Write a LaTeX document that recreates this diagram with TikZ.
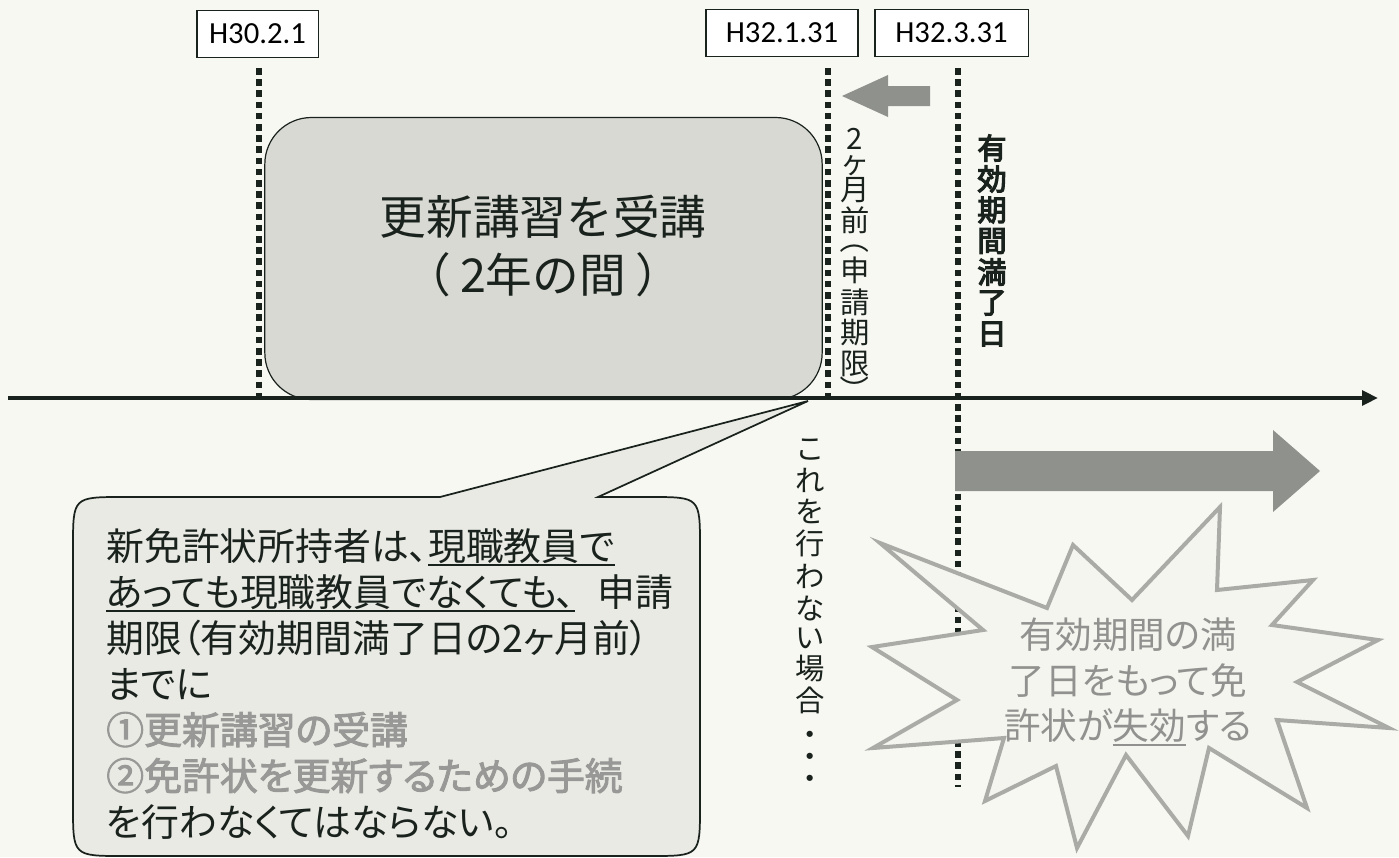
\documentclass[tikz,border=0pt]{standalone}
\usepackage{fontspec}
\setmainfont{Noto Sans CJK JP}
\newfontfamily\cjkb{Noto Sans CJK JP}[FakeBold=4]
\newfontfamily\cjkp{Noto Sans CJK JP}[RawFeature=+palt]
\newfontfamily\cjkpb{Noto Sans CJK JP}[RawFeature=+palt,FakeBold=2.5]
\newfontfamily\latf{Carlito}
\usetikzlibrary{arrows.meta}
\definecolor{bg}{RGB}{248,248,243}
\definecolor{ink}{RGB}{26,34,29}
\definecolor{arrowgray}{RGB}{143,145,140}
\definecolor{boxgray}{RGB}{217,217,212}
\definecolor{callgray}{RGB}{234,234,229}
\definecolor{starline}{RGB}{170,170,167}
\definecolor{starfill}{RGB}{245,245,240}
\definecolor{startext}{RGB}{145,145,143}
\definecolor{listgray}{RGB}{152,152,150}
\newcommand\myul[1]{\setbox0=\hbox{#1}\rlap{\rule[-0.17em]{\wd0}{0.055em}}\box0}
\begin{document}
\begin{tikzpicture}[x=0.75pt,y=-0.75pt,
  datebox/.style={draw=ink, line width=1pt, fill=white, minimum height=35pt, inner sep=0pt, font=\latf\fontsize{23}{24}\selectfont},
  dotline/.style={draw=ink, line width=4.4pt, dash pattern=on 5pt off 3.4pt},
  timeline/.style={draw=ink, line width=3.4pt, -{Triangle[length=12pt,width=11pt]}},
  grayarrow/.style={fill=arrowgray, draw=none},
  vtext/.style={inner sep=0pt, text=ink, font=\fontsize{22}{22}\selectfont},
  vbold/.style={inner sep=0pt, text=ink, font=\cjkb\fontsize{22}{22}\selectfont},
  ctext/.style={inner sep=0pt, anchor=base west, text=ink, font=\cjkp\fontsize{28.4}{30}\selectfont},
  clist/.style={ctext, text=listgray, font=\cjkpb\fontsize{28.4}{30}\selectfont},
  stext/.style={inner sep=0pt, text=startext, font=\cjkp\fontsize{27.4}{30}\selectfont}]
\useasboundingbox (0,0) rectangle (1399,857);
\fill[bg] (0,0) rectangle (1399,857);

% course box
\node[draw=ink, line width=0.9pt, fill=boxgray, rounded corners=35pt,
      minimum width=418pt, minimum height=211.5pt, inner sep=0pt] (course) at (543.5,258.5) {};
\node[align=center, text=ink, font=\fontsize{35}{43}\selectfont] (coursetext) at (543,246)
  {更新講習を受講\\（\hspace{0.2em}2年の間\hspace{0.2em}）};

% dotted vertical lines
\coordinate (l1t) at (259,68);  \coordinate (l1b) at (259,397);
\coordinate (l2t) at (828,68);  \coordinate (l2b) at (828,397);
\coordinate (l3t) at (958,68);  \coordinate (l3b) at (958,787);
\draw[dotline] (l1t) -- (l1b);
\draw[dotline] (l2t) -- (l2b);
\draw[dotline] (l3t) -- (l3b);

% timeline
\coordinate (t0) at (8,398); \coordinate (t1) at (1378,398);
\draw[timeline] (t0) -- (t1);

% callout
\coordinate (tip) at (808,401);
\draw[draw=ink, line width=1.3pt, fill=callgray, line join=miter]
  (440,497) -- (tip) -- (598,497) -- (650,497) .. controls (700,497) .. (700,547)
  -- (700,806) .. controls (700,856) .. (650,856) -- (123,856)
  .. controls (73,856) .. (73,806) -- (73,547) .. controls (73,497) .. (123,497) -- cycle;
\node[ctext] (c1) at (106,560) {新免許状所持者は、\myul{現職教員で}};
\node[ctext] (c2) at (106,606) {\myul{あっても現職教員でなくても、}\hspace{0.6em}申請};
\node[ctext] (c3) at (106,652) {期限（有効期間満了日の2ヶ月前）};
\node[ctext] (c4) at (106,698) {までに};
\node[clist] (c5) at (106,744) {①更新講習の受講};
\node[clist] (c6) at (106,790) {②免許状を更新するための手続};
\node[ctext] (c7) at (106,836) {を行わなくてはならない。};

% small left arrow
\fill[grayarrow] (842,96) -- (888,75) -- (888,86) -- (930,86) -- (930,106) -- (888,106) -- (888,117) -- cycle;
% big right arrow
\fill[grayarrow] (955,451) -- (1273,451) -- (1273,430) -- (1320,471) -- (1273,512) -- (1273,491) -- (955,491) -- cycle;

% vertical texts
\foreach \c/\y [count=\i] in {2/139,ヶ/166,月/190,前/220,申/270,請/302,期/333,限/364}
  \node[vtext] (va\i) at (855,\y) {\c};
\node[vtext] (vaopen) at (855,239) {\rotatebox{-90}{（}};
\node[vtext] (vaclose) at (855,390) {\rotatebox{-90}{）}};
\foreach \c/\y [count=\i] in {有/148,効/179,期/210,間/241,満/272,了/303,日/334}
  \node[vbold] (vb\i) at (992,\y) {\c};
\foreach \c/\y [count=\i] in {こ/450,れ/480,を/511,行/543,わ/576,な/608,い/638,場/669,合/700}
  \node[vtext] (vc\i) at (810,\y) {\c};
\node[vtext, align=center, font=\fontsize{22}{16.5}\selectfont] (vdots) at (810,760) {・\\・\\・};

% starburst
\draw[draw=starline, line width=3pt, fill=starfill, line join=miter]
  (880,543) -- (1047,608) -- (1073,545) -- (1132,600) -- (1220,507) -- (1217,590)
  -- (1313,580) -- (1272,625) -- (1378,640) -- (1297,682) -- (1389,728) -- (1277,720)
  -- (1307,808) -- (1209,748) -- (1188,836) -- (1126,755) -- (1077,848) -- (1056,766)
  -- (985,801) -- (1004,738) -- (873,748) -- (957,700) -- (872,647) -- (983,630) -- cycle;
\node[stext] (s1) at (1128,635) {有効期間の満};
\node[stext] (s2) at (1128,681) {了日をもって免};
\node[stext] (s3) at (1128,727) {許状が\myul{失効}する};

% date boxes
\node[datebox, minimum width=91pt] (d1) at (257.5,34) {H30.2.1};
\node[datebox, minimum width=114pt] (d2) at (782,33) {H32.1.31};
\node[datebox, minimum width=115pt] (d3) at (951.5,33) {H32.3.31};
\end{tikzpicture}
\end{document}
